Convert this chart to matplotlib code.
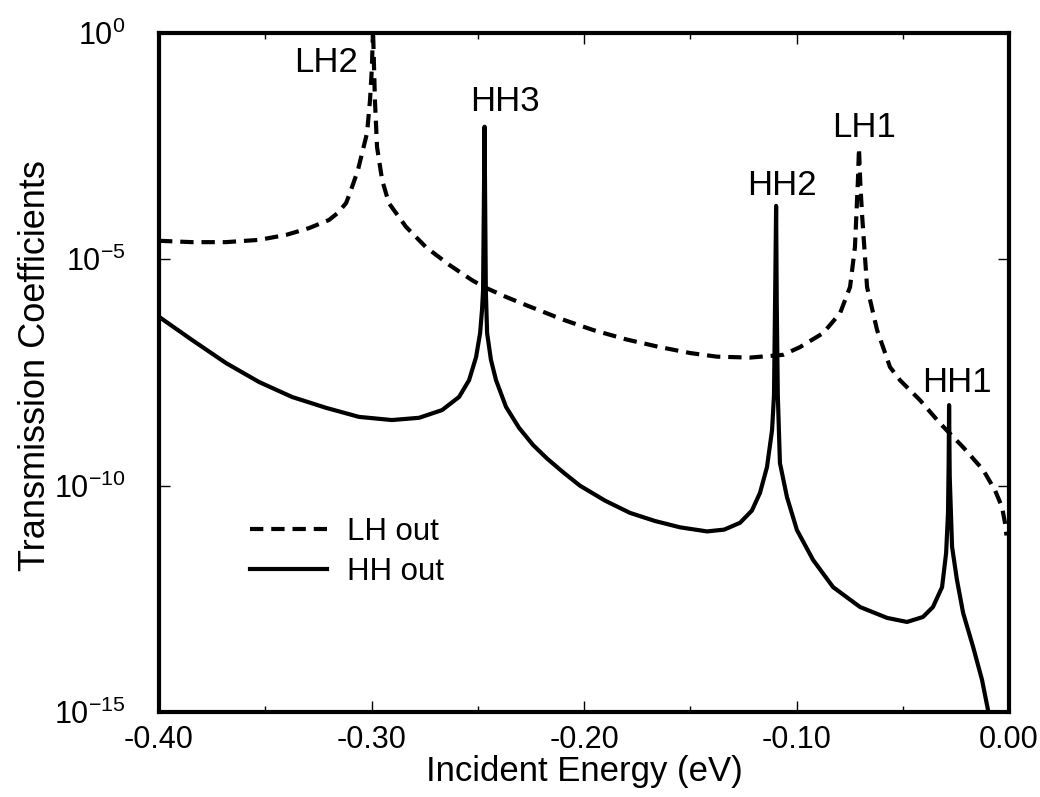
import matplotlib
matplotlib.use("Agg")
import matplotlib.pyplot as plt
from matplotlib.ticker import NullLocator, MultipleLocator
import numpy as np

plt.rcParams['font.family'] = ['Liberation Sans', 'DejaVu Sans']

# LH out (dashed): incident energy in eV, log10 of transmission coefficient
lh_energy = [-0.4000, -0.3845, -0.3685, -0.3529, -0.3402, -0.3294, -0.3200, -0.3160,
             -0.3120, -0.3101, -0.3064, -0.3021, -0.3007, -0.2998, -0.2993, -0.2984,
             -0.2974, -0.2950, -0.2918, -0.2838, -0.2744, -0.2635, -0.2527, -0.2471,
             -0.2367, -0.2268, -0.2100, -0.1958, -0.1800, -0.1642, -0.1500, -0.1374,
             -0.1219, -0.1064, -0.0984, -0.0875, -0.0795, -0.0748, -0.0725, -0.0711,
             -0.0706, -0.0700, -0.0692, -0.0668, -0.0621, -0.0560, -0.0513, -0.0419,
             -0.0325, -0.0216, -0.0122, -0.0066, -0.0033, -0.0019, -0.0012]
lh_log10 = [-4.59, -4.62, -4.62, -4.57, -4.46, -4.31, -4.13, -3.98,
            -3.76, -3.53, -3.03, -2.21, -1.48, -0.75, 0.10, -1.48,
            -2.52, -3.25, -3.76, -4.28, -4.73, -5.12, -5.46, -5.61,
            -5.83, -6.02, -6.33, -6.56, -6.77, -6.94, -7.07, -7.15,
            -7.17, -7.11, -6.94, -6.63, -6.19, -5.61, -4.73, -3.25,
            -2.54, -3.30, -3.98, -5.61, -6.56, -7.38, -7.67, -8.11,
            -8.62, -9.15, -9.65, -10.10, -10.47, -10.82, -11.10]

# HH out (solid)
hh_energy = [-0.4000, -0.3845, -0.3685, -0.3529, -0.3374, -0.3214, -0.3059, -0.2904,
             -0.2776, -0.2668, -0.2588, -0.2541, -0.2508, -0.2489, -0.2480, -0.2475,
             -0.2468, -0.2462, -0.2456, -0.2438, -0.2414, -0.2367, -0.2306, -0.2240,
             -0.2174, -0.2099, -0.2019, -0.1901, -0.1784, -0.1666, -0.1548, -0.1421,
             -0.1340, -0.1266, -0.1210, -0.1172, -0.1139, -0.1115, -0.1106, -0.1101,
             -0.1096, -0.1093, -0.1088, -0.1078, -0.1045, -0.0998, -0.0922, -0.0828,
             -0.0701, -0.0574, -0.0480, -0.0405, -0.0358, -0.0315, -0.0296, -0.0287,
             -0.0284, -0.0282, -0.0279, -0.0268, -0.0245, -0.0216, -0.0169, -0.0127,
             -0.0099, -0.0090]
hh_log10 = [-6.27, -6.78, -7.29, -7.71, -8.04, -8.28, -8.48, -8.55,
            -8.50, -8.33, -8.04, -7.67, -7.16, -6.63, -6.12, -5.68,
            -2.07, -5.70, -6.63, -7.22, -7.67, -8.26, -8.72, -9.10,
            -9.40, -9.70, -10.00, -10.33, -10.60, -10.78, -10.92, -11.01,
            -10.97, -10.82, -10.55, -10.16, -9.59, -8.77, -8.00, -6.00,
            -3.82, -6.00, -8.00, -9.50, -10.25, -10.98, -11.64, -12.24,
            -12.68, -12.92, -13.01, -12.90, -12.68, -12.24, -11.49, -10.60,
            -9.50, -8.22, -9.80, -11.35, -12.08, -12.81, -13.56, -14.29,
            -14.95, -15.20]

peak_names = ["LH2", "HH3", "HH2", "LH1", "HH1"]
peak_energy = [-0.2993, -0.2468, -0.1096, -0.0706, -0.0282]
peak_log10 = [0.0, -2.07, -3.82, -2.54, -8.22]

x_ticks = [-0.40, -0.30, -0.20, -0.10, 0.00]
x_tick_labels = ["-0.40", "-0.30", "-0.20", "-0.10", "0.00"]
y_ticks = [1e0, 1e-5, 1e-10, 1e-15]
y_tick_labels = [r"$\mathdefault{10^{0}}$", r"$\mathdefault{10^{-5}}$",
                 r"$\mathdefault{10^{-10}}$", r"$\mathdefault{10^{-15}}$"]

fig = plt.figure(figsize=(10.4, 7.97), dpi=100)
ax = fig.add_axes([0.1529, 0.1066, 0.8173, 0.852])

ax.plot(lh_energy, 10.0 ** np.array(lh_log10), color='black', lw=3.0,
        linestyle=(0, (3.2, 1.9)), label='LH out')
ax.plot(hh_energy, 10.0 ** np.array(hh_log10), color='black', lw=3.0,
        label='HH out')

ax.set_yscale('log')
ax.set_xlim(-0.40, 0.00)
ax.set_ylim(1e-15, 1e0)

# labels above each resonance peak (offsets in points)
offsets = [(-34, -21), (15, 18), (4, 15), (4, 15), (6, 16)]
for name, e, lg, off in zip(peak_names, peak_energy, peak_log10, offsets):
    ax.annotate(name, xy=(e, 10.0 ** lg), xytext=off, textcoords='offset points',
                ha='center', va='center', fontsize=25)

ax.set_xticks(x_ticks, x_tick_labels)
ax.xaxis.set_minor_locator(MultipleLocator(0.05))
ax.set_yticks(y_ticks, y_tick_labels)
ax.yaxis.set_minor_locator(NullLocator())

ax.tick_params(which='both', direction='in', top=True, right=True, width=1)
ax.tick_params(axis='x', which='major', length=8, labelsize=22, pad=9)
ax.tick_params(axis='x', which='minor', length=4.5)
ax.tick_params(axis='y', which='major', length=8, labelsize=22, pad=24)

for s in ax.spines.values():
    s.set_linewidth(3)

ax.set_xlabel('Incident Energy (eV)', fontsize=25)
ax.xaxis.set_label_coords(0.5, -0.064)
ax.set_ylabel('Transmission Coefficients', fontsize=26)
ax.yaxis.set_label_coords(-0.1247, 0.51)

ax.legend(loc='upper left', bbox_to_anchor=(0.107, 0.287), frameon=False,
          fontsize=22.5, borderpad=0, borderaxespad=0, handlelength=2.45,
          handletextpad=0.65, labelspacing=0.3)

fig.savefig('out.png', dpi=100)
